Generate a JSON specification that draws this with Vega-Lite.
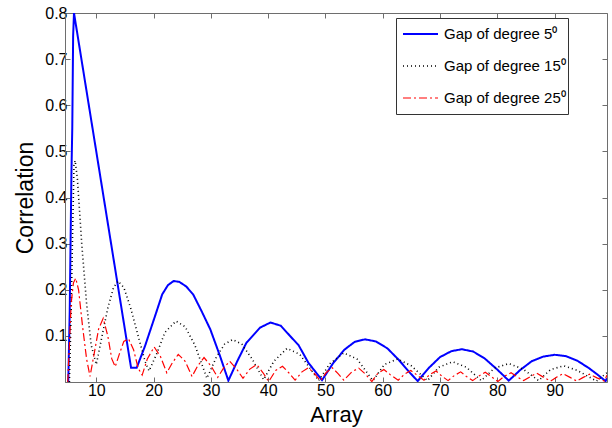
{
  "$schema": "https://vega.github.io/schema/vega-lite/v6.json",
  "autosize": "none",
  "width": 542,
  "height": 369,
  "padding": {"left": 65, "top": 13, "right": 5, "bottom": 46},
  "background": "white",
  "config": {
    "font": "Liberation Sans",
    "view": {"stroke": "#6e6e6e", "strokeWidth": 1},
    "legend": {
      "symbolType": "stroke", "symbolSize": 1225, "symbolStrokeWidth": 1.5,
      "symbolOffset": 4, "clipHeight": 28, "labelLimit": 400,
      "labelFontSize": 15, "labelColor": "#000", "labelOffset": 5,
      "rowPadding": 4, "padding": 2, "strokeColor": "#333", "fillColor": "#fff"
    }
  },
  "datasets": {
    "curves": [
      {"s": "Gap of degree 5⁰", "x": 5.1, "y": 0},
      {"s": "Gap of degree 5⁰", "x": 5.35, "y": 0.15},
      {"s": "Gap of degree 5⁰", "x": 5.45, "y": 0.25},
      {"s": "Gap of degree 5⁰", "x": 5.55, "y": 0.35},
      {"s": "Gap of degree 5⁰", "x": 5.65, "y": 0.45},
      {"s": "Gap of degree 5⁰", "x": 5.8, "y": 0.55},
      {"s": "Gap of degree 5⁰", "x": 5.95, "y": 0.75},
      {"s": "Gap of degree 5⁰", "x": 6.1, "y": 0.8},
      {"s": "Gap of degree 5⁰", "x": 16.06, "y": 0.031},
      {"s": "Gap of degree 5⁰", "x": 17.05, "y": 0.031},
      {"s": "Gap of degree 5⁰", "x": 18.5, "y": 0.078},
      {"s": "Gap of degree 5⁰", "x": 20.25, "y": 0.143},
      {"s": "Gap of degree 5⁰", "x": 21.5, "y": 0.19},
      {"s": "Gap of degree 5⁰", "x": 22.5, "y": 0.21},
      {"s": "Gap of degree 5⁰", "x": 23.5, "y": 0.219},
      {"s": "Gap of degree 5⁰", "x": 24.5, "y": 0.217},
      {"s": "Gap of degree 5⁰", "x": 25.7, "y": 0.207},
      {"s": "Gap of degree 5⁰", "x": 26.9, "y": 0.19},
      {"s": "Gap of degree 5⁰", "x": 28.4, "y": 0.153},
      {"s": "Gap of degree 5⁰", "x": 29.9, "y": 0.114},
      {"s": "Gap of degree 5⁰", "x": 31.6, "y": 0.056},
      {"s": "Gap of degree 5⁰", "x": 33.05, "y": 0.003},
      {"s": "Gap of degree 5⁰", "x": 34.6, "y": 0.045},
      {"s": "Gap of degree 5⁰", "x": 36.2, "y": 0.085},
      {"s": "Gap of degree 5⁰", "x": 38.6, "y": 0.118},
      {"s": "Gap of degree 5⁰", "x": 40.4, "y": 0.129},
      {"s": "Gap of degree 5⁰", "x": 42.2, "y": 0.122},
      {"s": "Gap of degree 5⁰", "x": 43.8, "y": 0.1},
      {"s": "Gap of degree 5⁰", "x": 45.3, "y": 0.08},
      {"s": "Gap of degree 5⁰", "x": 47.0, "y": 0.042},
      {"s": "Gap of degree 5⁰", "x": 49.4, "y": 0.004},
      {"s": "Gap of degree 5⁰", "x": 51.3, "y": 0.04},
      {"s": "Gap of degree 5⁰", "x": 53.3, "y": 0.07},
      {"s": "Gap of degree 5⁰", "x": 55.1, "y": 0.087},
      {"s": "Gap of degree 5⁰", "x": 56.9, "y": 0.0925},
      {"s": "Gap of degree 5⁰", "x": 58.8, "y": 0.088},
      {"s": "Gap of degree 5⁰", "x": 60.8, "y": 0.073},
      {"s": "Gap of degree 5⁰", "x": 62.8, "y": 0.048},
      {"s": "Gap of degree 5⁰", "x": 64.6, "y": 0.022},
      {"s": "Gap of degree 5⁰", "x": 66.1, "y": 0.002},
      {"s": "Gap of degree 5⁰", "x": 68, "y": 0.03},
      {"s": "Gap of degree 5⁰", "x": 70, "y": 0.054},
      {"s": "Gap of degree 5⁰", "x": 72, "y": 0.067},
      {"s": "Gap of degree 5⁰", "x": 73.8, "y": 0.071},
      {"s": "Gap of degree 5⁰", "x": 75.8, "y": 0.066},
      {"s": "Gap of degree 5⁰", "x": 77.8, "y": 0.051},
      {"s": "Gap of degree 5⁰", "x": 79.9, "y": 0.028},
      {"s": "Gap of degree 5⁰", "x": 82, "y": 0.003},
      {"s": "Gap of degree 5⁰", "x": 84, "y": 0.026},
      {"s": "Gap of degree 5⁰", "x": 86, "y": 0.045},
      {"s": "Gap of degree 5⁰", "x": 88, "y": 0.055},
      {"s": "Gap of degree 5⁰", "x": 90, "y": 0.059},
      {"s": "Gap of degree 5⁰", "x": 92, "y": 0.056},
      {"s": "Gap of degree 5⁰", "x": 94, "y": 0.046},
      {"s": "Gap of degree 5⁰", "x": 96, "y": 0.03},
      {"s": "Gap of degree 5⁰", "x": 97.5, "y": 0.016},
      {"s": "Gap of degree 5⁰", "x": 98.9, "y": 0.002},
      {"s": "Gap of degree 5⁰", "x": 99.15, "y": 0.008},

      {"s": "Gap of degree 15⁰", "x": 5.3, "y": 0},
      {"s": "Gap of degree 15⁰", "x": 5.6, "y": 0.15},
      {"s": "Gap of degree 15⁰", "x": 5.9, "y": 0.35},
      {"s": "Gap of degree 15⁰", "x": 6.1, "y": 0.47},
      {"s": "Gap of degree 15⁰", "x": 6.3, "y": 0.48},
      {"s": "Gap of degree 15⁰", "x": 6.7, "y": 0.44},
      {"s": "Gap of degree 15⁰", "x": 7.45, "y": 0.3},
      {"s": "Gap of degree 15⁰", "x": 8.3, "y": 0.17},
      {"s": "Gap of degree 15⁰", "x": 9.1, "y": 0.08},
      {"s": "Gap of degree 15⁰", "x": 10.0, "y": 0.038},
      {"s": "Gap of degree 15⁰", "x": 11, "y": 0.1},
      {"s": "Gap of degree 15⁰", "x": 12, "y": 0.16},
      {"s": "Gap of degree 15⁰", "x": 13, "y": 0.205},
      {"s": "Gap of degree 15⁰", "x": 13.8, "y": 0.219},
      {"s": "Gap of degree 15⁰", "x": 14.8, "y": 0.205},
      {"s": "Gap of degree 15⁰", "x": 16, "y": 0.16},
      {"s": "Gap of degree 15⁰", "x": 17.3, "y": 0.1},
      {"s": "Gap of degree 15⁰", "x": 18.5, "y": 0.045},
      {"s": "Gap of degree 15⁰", "x": 19.2, "y": 0.024},
      {"s": "Gap of degree 15⁰", "x": 20.5, "y": 0.06},
      {"s": "Gap of degree 15⁰", "x": 22, "y": 0.108},
      {"s": "Gap of degree 15⁰", "x": 23.9, "y": 0.132},
      {"s": "Gap of degree 15⁰", "x": 25.5, "y": 0.12},
      {"s": "Gap of degree 15⁰", "x": 27.2, "y": 0.08},
      {"s": "Gap of degree 15⁰", "x": 29.3, "y": 0.008},
      {"s": "Gap of degree 15⁰", "x": 31, "y": 0.055},
      {"s": "Gap of degree 15⁰", "x": 32.4, "y": 0.082},
      {"s": "Gap of degree 15⁰", "x": 33.8, "y": 0.092},
      {"s": "Gap of degree 15⁰", "x": 35.4, "y": 0.082},
      {"s": "Gap of degree 15⁰", "x": 37.2, "y": 0.05},
      {"s": "Gap of degree 15⁰", "x": 39.2, "y": 0.005},
      {"s": "Gap of degree 15⁰", "x": 41, "y": 0.045},
      {"s": "Gap of degree 15⁰", "x": 43.3, "y": 0.073},
      {"s": "Gap of degree 15⁰", "x": 45.5, "y": 0.06},
      {"s": "Gap of degree 15⁰", "x": 47.3, "y": 0.03},
      {"s": "Gap of degree 15⁰", "x": 48.8, "y": 0.003},
      {"s": "Gap of degree 15⁰", "x": 50.8, "y": 0.04},
      {"s": "Gap of degree 15⁰", "x": 53.2, "y": 0.063},
      {"s": "Gap of degree 15⁰", "x": 55.5, "y": 0.05},
      {"s": "Gap of degree 15⁰", "x": 58.3, "y": 0.003},
      {"s": "Gap of degree 15⁰", "x": 60.3, "y": 0.038},
      {"s": "Gap of degree 15⁰", "x": 62.6, "y": 0.05},
      {"s": "Gap of degree 15⁰", "x": 65, "y": 0.035},
      {"s": "Gap of degree 15⁰", "x": 67.8, "y": 0.003},
      {"s": "Gap of degree 15⁰", "x": 69.8, "y": 0.032},
      {"s": "Gap of degree 15⁰", "x": 72.2, "y": 0.044},
      {"s": "Gap of degree 15⁰", "x": 74.6, "y": 0.032},
      {"s": "Gap of degree 15⁰", "x": 77.2, "y": 0.003},
      {"s": "Gap of degree 15⁰", "x": 79.5, "y": 0.03},
      {"s": "Gap of degree 15⁰", "x": 82, "y": 0.04},
      {"s": "Gap of degree 15⁰", "x": 84.5, "y": 0.028},
      {"s": "Gap of degree 15⁰", "x": 87.2, "y": 0.003},
      {"s": "Gap of degree 15⁰", "x": 89.3, "y": 0.027},
      {"s": "Gap of degree 15⁰", "x": 91.6, "y": 0.035},
      {"s": "Gap of degree 15⁰", "x": 94, "y": 0.025},
      {"s": "Gap of degree 15⁰", "x": 97.3, "y": 0.002},
      {"s": "Gap of degree 15⁰", "x": 99.15, "y": 0.02},

      {"s": "Gap of degree 25⁰", "x": 5.0, "y": 0},
      {"s": "Gap of degree 25⁰", "x": 5.3, "y": 0.08},
      {"s": "Gap of degree 25⁰", "x": 5.6, "y": 0.17},
      {"s": "Gap of degree 25⁰", "x": 6.0, "y": 0.215},
      {"s": "Gap of degree 25⁰", "x": 6.4, "y": 0.225},
      {"s": "Gap of degree 25⁰", "x": 6.9, "y": 0.2},
      {"s": "Gap of degree 25⁰", "x": 7.6, "y": 0.12},
      {"s": "Gap of degree 25⁰", "x": 8.3, "y": 0.05},
      {"s": "Gap of degree 25⁰", "x": 8.9, "y": 0.012},
      {"s": "Gap of degree 25⁰", "x": 9.6, "y": 0.06},
      {"s": "Gap of degree 25⁰", "x": 10.4, "y": 0.115},
      {"s": "Gap of degree 25⁰", "x": 11.2, "y": 0.138},
      {"s": "Gap of degree 25⁰", "x": 12.0, "y": 0.1},
      {"s": "Gap of degree 25⁰", "x": 12.7, "y": 0.05},
      {"s": "Gap of degree 25⁰", "x": 13.3, "y": 0.033},
      {"s": "Gap of degree 25⁰", "x": 14.0, "y": 0.06},
      {"s": "Gap of degree 25⁰", "x": 14.8, "y": 0.088},
      {"s": "Gap of degree 25⁰", "x": 15.6, "y": 0.094},
      {"s": "Gap of degree 25⁰", "x": 16.5, "y": 0.07},
      {"s": "Gap of degree 25⁰", "x": 17.3, "y": 0.03},
      {"s": "Gap of degree 25⁰", "x": 18.0, "y": 0.015},
      {"s": "Gap of degree 25⁰", "x": 18.9, "y": 0.05},
      {"s": "Gap of degree 25⁰", "x": 20.1, "y": 0.076},
      {"s": "Gap of degree 25⁰", "x": 21.2, "y": 0.055},
      {"s": "Gap of degree 25⁰", "x": 22.3, "y": 0.02},
      {"s": "Gap of degree 25⁰", "x": 23.2, "y": 0.04},
      {"s": "Gap of degree 25⁰", "x": 24.3, "y": 0.06},
      {"s": "Gap of degree 25⁰", "x": 25.5, "y": 0.045},
      {"s": "Gap of degree 25⁰", "x": 26.7, "y": 0.012},
      {"s": "Gap of degree 25⁰", "x": 27.7, "y": 0.035},
      {"s": "Gap of degree 25⁰", "x": 28.8, "y": 0.053},
      {"s": "Gap of degree 25⁰", "x": 30, "y": 0.035},
      {"s": "Gap of degree 25⁰", "x": 31.2, "y": 0.01},
      {"s": "Gap of degree 25⁰", "x": 32.2, "y": 0.03},
      {"s": "Gap of degree 25⁰", "x": 33.3, "y": 0.045},
      {"s": "Gap of degree 25⁰", "x": 34.5, "y": 0.028},
      {"s": "Gap of degree 25⁰", "x": 35.6, "y": 0.008},
      {"s": "Gap of degree 25⁰", "x": 36.8, "y": 0.028},
      {"s": "Gap of degree 25⁰", "x": 38.0, "y": 0.038},
      {"s": "Gap of degree 25⁰", "x": 39.1, "y": 0.02},
      {"s": "Gap of degree 25⁰", "x": 40.1, "y": 0.001},
      {"s": "Gap of degree 25⁰", "x": 41.3, "y": 0.025},
      {"s": "Gap of degree 25⁰", "x": 42.5, "y": 0.034},
      {"s": "Gap of degree 25⁰", "x": 43.6, "y": 0.02},
      {"s": "Gap of degree 25⁰", "x": 44.7, "y": 0.004},
      {"s": "Gap of degree 25⁰", "x": 45.9, "y": 0.022},
      {"s": "Gap of degree 25⁰", "x": 47.0, "y": 0.031},
      {"s": "Gap of degree 25⁰", "x": 48.1, "y": 0.018},
      {"s": "Gap of degree 25⁰", "x": 49.1, "y": 0.003},
      {"s": "Gap of degree 25⁰", "x": 50.1, "y": 0.02},
      {"s": "Gap of degree 25⁰", "x": 51.2, "y": 0.031},
      {"s": "Gap of degree 25⁰", "x": 52.2, "y": 0.018},
      {"s": "Gap of degree 25⁰", "x": 53.2, "y": 0.004},
      {"s": "Gap of degree 25⁰", "x": 54.6, "y": 0.022},
      {"s": "Gap of degree 25⁰", "x": 55.8, "y": 0.03},
      {"s": "Gap of degree 25⁰", "x": 57, "y": 0.017},
      {"s": "Gap of degree 25⁰", "x": 58.1, "y": 0.001},
      {"s": "Gap of degree 25⁰", "x": 59.1, "y": 0.018},
      {"s": "Gap of degree 25⁰", "x": 60.2, "y": 0.027},
      {"s": "Gap of degree 25⁰", "x": 61.3, "y": 0.016},
      {"s": "Gap of degree 25⁰", "x": 62.7, "y": 0.004},
      {"s": "Gap of degree 25⁰", "x": 63.8, "y": 0.017},
      {"s": "Gap of degree 25⁰", "x": 64.9, "y": 0.025},
      {"s": "Gap of degree 25⁰", "x": 66.1, "y": 0.014},
      {"s": "Gap of degree 25⁰", "x": 67.2, "y": 0.004},
      {"s": "Gap of degree 25⁰", "x": 68.2, "y": 0.016},
      {"s": "Gap of degree 25⁰", "x": 69.3, "y": 0.024},
      {"s": "Gap of degree 25⁰", "x": 70.3, "y": 0.013},
      {"s": "Gap of degree 25⁰", "x": 71.4, "y": 0.003},
      {"s": "Gap of degree 25⁰", "x": 72.5, "y": 0.014},
      {"s": "Gap of degree 25⁰", "x": 73.6, "y": 0.022},
      {"s": "Gap of degree 25⁰", "x": 74.6, "y": 0.012},
      {"s": "Gap of degree 25⁰", "x": 75.7, "y": 0.003},
      {"s": "Gap of degree 25⁰", "x": 76.8, "y": 0.013},
      {"s": "Gap of degree 25⁰", "x": 77.9, "y": 0.021},
      {"s": "Gap of degree 25⁰", "x": 79, "y": 0.011},
      {"s": "Gap of degree 25⁰", "x": 80.1, "y": 0.001},
      {"s": "Gap of degree 25⁰", "x": 81.2, "y": 0.012},
      {"s": "Gap of degree 25⁰", "x": 82.4, "y": 0.02},
      {"s": "Gap of degree 25⁰", "x": 83.5, "y": 0.011},
      {"s": "Gap of degree 25⁰", "x": 84.6, "y": 0.003},
      {"s": "Gap of degree 25⁰", "x": 85.8, "y": 0.012},
      {"s": "Gap of degree 25⁰", "x": 86.9, "y": 0.019},
      {"s": "Gap of degree 25⁰", "x": 88.1, "y": 0.01},
      {"s": "Gap of degree 25⁰", "x": 89.3, "y": 0.002},
      {"s": "Gap of degree 25⁰", "x": 90.4, "y": 0.011},
      {"s": "Gap of degree 25⁰", "x": 91.5, "y": 0.018},
      {"s": "Gap of degree 25⁰", "x": 92.7, "y": 0.01},
      {"s": "Gap of degree 25⁰", "x": 93.9, "y": 0.002},
      {"s": "Gap of degree 25⁰", "x": 95.0, "y": 0.01},
      {"s": "Gap of degree 25⁰", "x": 96.1, "y": 0.017},
      {"s": "Gap of degree 25⁰", "x": 97.4, "y": 0.009},
      {"s": "Gap of degree 25⁰", "x": 98.7, "y": 0.002},
      {"s": "Gap of degree 25⁰", "x": 99.15, "y": 0.015}
    ]
  },
  "data": {"name": "curves"},
  "resolve": {"axis": {"x": "independent", "y": "independent"}},
  "layer": [
    {
      "mark": {"type": "line", "clip": true},
      "encoding": {
        "x": {
          "field": "x", "type": "quantitative",
          "scale": {"domain": [4.53, 99.15], "nice": false, "zero": false},
          "axis": {
            "orient": "bottom",
            "title": "Array", "values": [10, 20, 30, 40, 50, 60, 70, 80, 90],
            "grid": false, "labelFontSize": 16, "labelColor": "#000",
            "tickSize": -5, "tickColor": "#6e6e6e", "domainColor": "#6e6e6e",
            "labelPadding": 5, "titleFontSize": 22, "titleFontWeight": "normal",
            "titleColor": "#000", "titlePadding": 6
          }
        },
        "y": {
          "field": "y", "type": "quantitative",
          "scale": {"domain": [0, 0.8], "nice": false},
          "axis": {
            "orient": "left",
            "title": "Correlation", "values": [0.1, 0.2, 0.3, 0.4, 0.5, 0.6, 0.7, 0.8],
            "format": ".1f", "grid": false, "labelFontSize": 16, "labelColor": "#000",
            "tickSize": -5, "tickColor": "#6e6e6e", "domainColor": "#6e6e6e",
            "labelPadding": 3, "titleFontSize": 23, "titleFontWeight": "normal",
            "titleColor": "#000", "titlePadding": 7
          }
        },
        "color": {
          "field": "s", "type": "nominal",
          "scale": {"domain": ["Gap of degree 5⁰", "Gap of degree 15⁰", "Gap of degree 25⁰"], "range": ["#0000ff", "#000000", "#ff0000"]},
          "legend": {
            "title": null, "orient": "none", "legendX": 331, "legendY": 5,
            "labelExpr": "datum.label + '\u2003\u2003\u00a0\u00a0'"
          }
        },
        "strokeDash": {
          "field": "s", "type": "nominal",
          "scale": {"domain": ["Gap of degree 5⁰", "Gap of degree 15⁰", "Gap of degree 25⁰"], "range": [[1, 0], [1, 3], [8, 3, 2, 3]]},
          "legend": {
            "title": null, "orient": "none", "legendX": 331, "legendY": 5,
            "labelExpr": "datum.label + '\u2003\u2003\u00a0\u00a0'"
          }
        },
        "strokeWidth": {
          "field": "s", "type": "nominal",
          "scale": {"domain": ["Gap of degree 5⁰", "Gap of degree 15⁰", "Gap of degree 25⁰"], "range": [2, 1.2, 2]},
          "legend": null
        }
      }
    },
    {
      "mark": {"type": "point", "opacity": 0},
      "encoding": {
        "x": {
          "field": "x", "type": "quantitative",
          "axis": {
            "orient": "top", "title": null, "labels": false, "domain": false,
            "values": [10, 20, 30, 40, 50, 60, 70, 80, 90], "grid": false,
            "tickSize": -5, "tickColor": "#6e6e6e"
          }
        },
        "y": {
          "field": "y", "type": "quantitative",
          "axis": {
            "orient": "right", "title": null, "labels": false, "domain": false,
            "values": [0.1, 0.2, 0.3, 0.4, 0.5, 0.6, 0.7, 0.8], "grid": false,
            "tickSize": -5, "tickColor": "#6e6e6e"
          }
        }
      }
    }
  ]
}
